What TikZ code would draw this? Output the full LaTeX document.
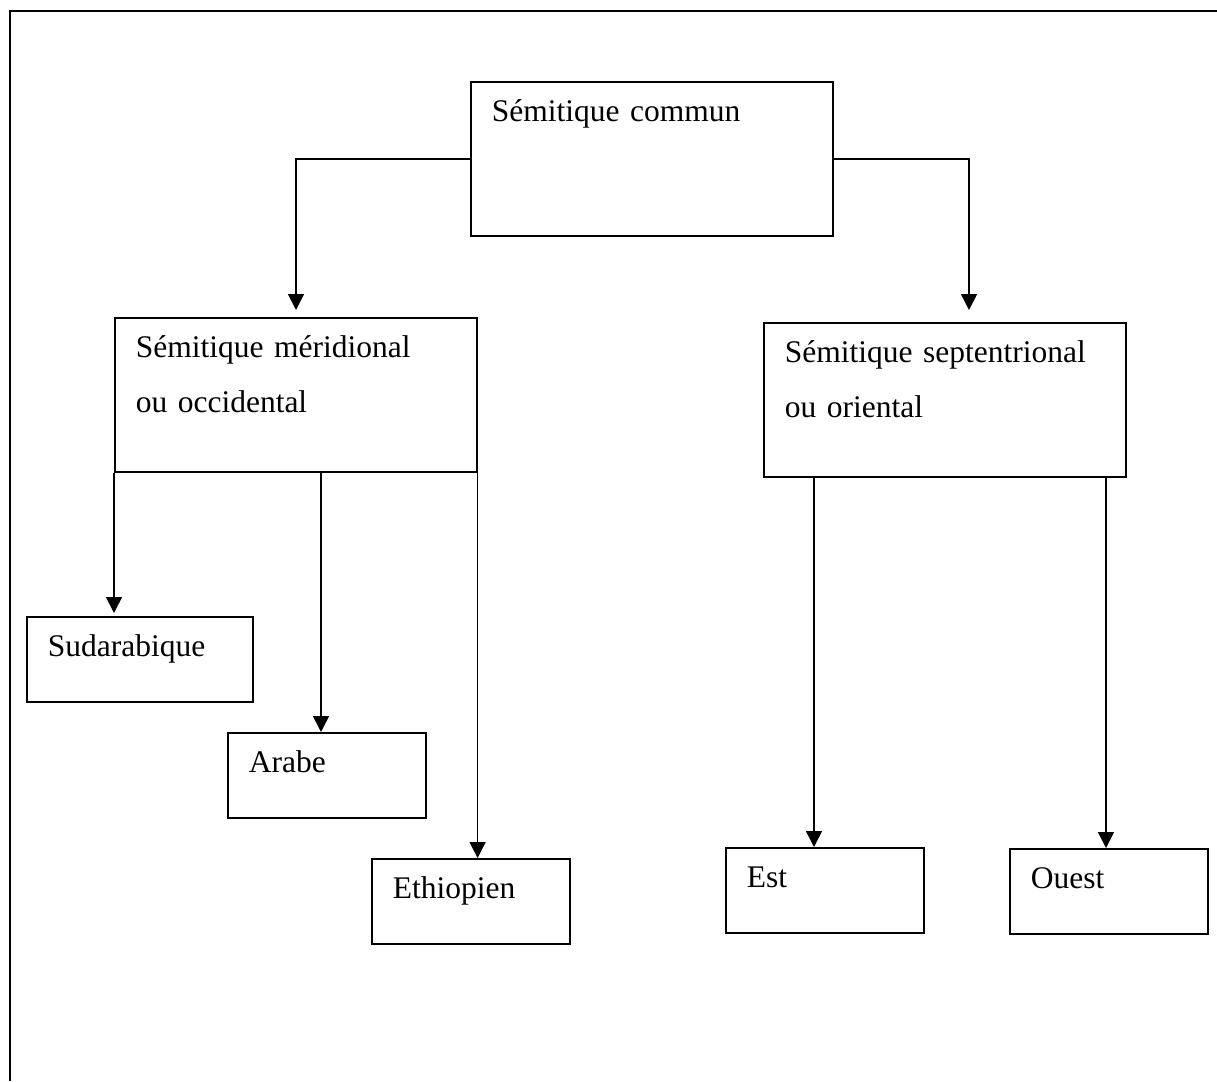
\documentclass[tikz,border=0pt]{standalone}
\usepackage{fontspec}
\setmainfont{Liberation Serif}
\usetikzlibrary{arrows.meta}
\tikzset{>={Triangle[length=16pt,width=16pt]},
         box/.style={draw, line width=1.6pt, anchor=north west,
           align=left, inner xsep=21pt, inner ysep=0pt, text height=40pt,
           font=\fontsize{31.5pt}{55pt}\selectfont},
         bigbox/.style={box, text width=320pt, text depth=114pt},
         smallbox/.style={box, text width=#1, text depth=45pt},
         smallbox/.default=156pt,
         link/.style={->, line width=1.6pt},
         frame/.style={line width=2.4pt}}

\begin{document}
\begin{tikzpicture}[x=1pt, y=-1pt]
  \useasboundingbox (0,0) rectangle (1217,1081);
  \draw[frame] (1217,11) -- (10,11) -- (10,1081);
  \node[bigbox] (commun) at (470,81) {Sémitique commun};
  \node[bigbox] (meri) at (114,317) {Sémitique méridional\\ou occidental};
  \node[bigbox] (sept) at (763,322) {Sémitique septentrional\\ou oriental};
  \node[smallbox=184pt] (sud) at (26,616) {Sudarabique};
  \node[smallbox] (arabe) at (227,732) {Arabe};
  \node[smallbox] (eth) at (371,858) {Ethiopien};
  \node[smallbox] (est) at (725,847) {Est};
  \node[smallbox] (ouest) at (1009,848) {Ouest};
  \draw[link] (commun.west) -| ([yshift=7pt]meri.north -| 296,0);
  \draw[link] (commun.east) -| ([yshift=12pt]sept.north -| 969,0);
  \draw[link] (meri.south west) -- ([yshift=3pt]sud.north -| meri.south west);
  \draw[link] (meri.south -| 321,0) -- (arabe.north -| 321,0);
  \draw[link] (meri.south east) -- (eth.north -| meri.south east);
  \draw[link] (sept.south -| 814,0) -- (est.north -| 814,0);
  \draw[link] (sept.south -| 1106,0) -- (ouest.north -| 1106,0);
\end{tikzpicture}
\end{document}
